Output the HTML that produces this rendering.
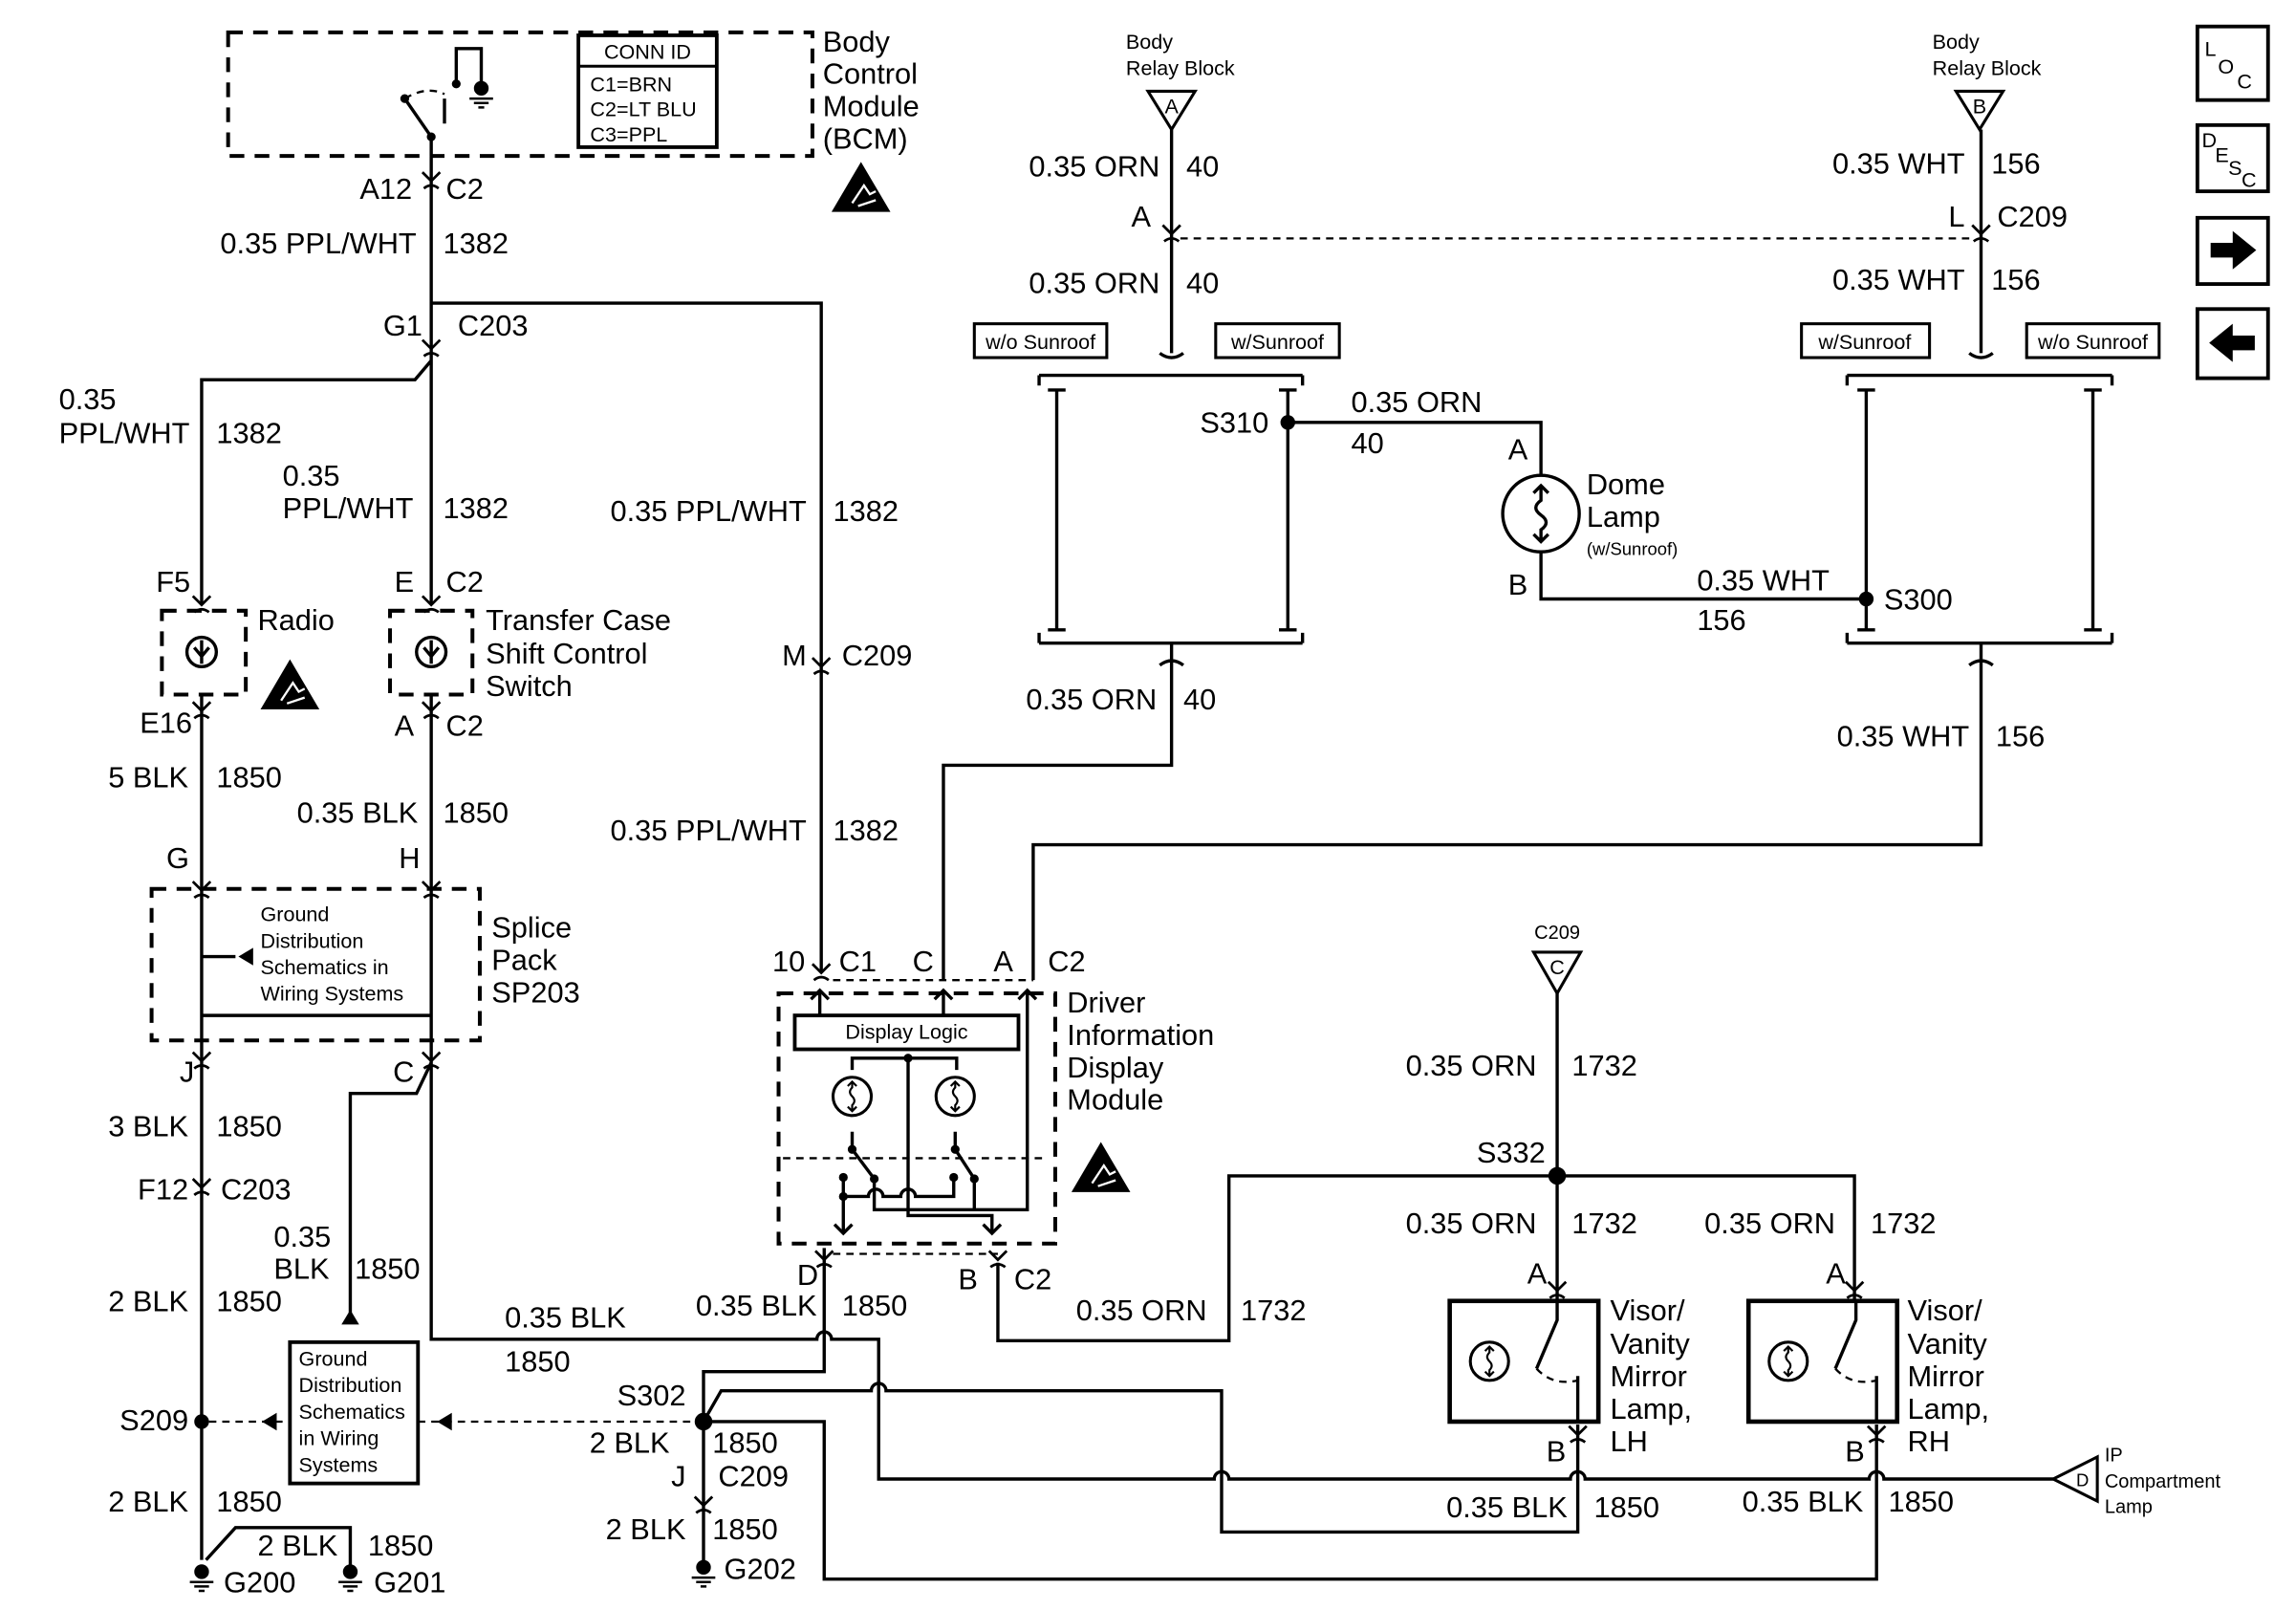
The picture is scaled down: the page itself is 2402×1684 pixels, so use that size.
<!DOCTYPE html>
<html><head><meta charset="utf-8"><style>
html,body{margin:0;padding:0;background:#fff}
svg{display:block}
text{font-family:"Liberation Sans",Arial,sans-serif;fill:#000}
.w{fill:none;stroke:#000;stroke-width:2.2}
.d{fill:none;stroke:#000;stroke-width:2.6;stroke-dasharray:10 7}
.dt{fill:none;stroke:#000;stroke-width:1.5;stroke-dasharray:5 4}
.t{font-size:20px}
.s{font-size:14px}
.e{text-anchor:end}
.m{text-anchor:middle}
</style></head><body>
<svg width="2402" height="1684" viewBox="0 0 1560 1094" preserveAspectRatio="none" xmlns="http://www.w3.org/2000/svg">
<rect width="1560" height="1094" fill="#fff"/>
<defs>
<g id="esd"><path d="M0,22 L20,-12 L40,22 Z" fill="#000"/><path d="M14,16 L22,4 L26,10 L30,8 M18,18 L30,14" stroke="#fff" stroke-width="1.5" fill="none"/></g>
<g id="gnd"><circle cx="0" cy="0" r="5" fill="#000"/><path d="M-8,7 H8 M-5,10 H5 M-2,13 H2" stroke="#000" stroke-width="1.6"/></g>
<g id="cv"><path d="M-6,-5 L0,1 L6,-5 M-5,6 Q0,2 5,6" fill="none" stroke="#000" stroke-width="1.8"/></g>
<g id="lamp"><circle cx="0" cy="0" r="13" fill="none" stroke="#000" stroke-width="2"/><path d="M0,-10 V-6 Q-3,-3 0,0 Q3,3 0,6 V10 M-3,-7 L0,-10 L3,-7 M-3,7 L0,10 L3,7" fill="none" stroke="#000" stroke-width="1.4"/></g>
</defs>

<!-- BCM -->
<rect x="155" y="22" width="397" height="84" class="d"/>
<rect x="393" y="24" width="94" height="76" fill="none" stroke="#000" stroke-width="2.5"/>
<line x1="393" y1="45" x2="487" y2="45" stroke="#000" stroke-width="2"/>
<text x="440" y="40" class="s m">CONN ID</text>
<text x="401" y="62" class="s">C1=BRN</text>
<text x="401" y="79" class="s">C2=LT BLU</text>
<text x="401" y="96" class="s">C3=PPL</text>
<path d="M293,106 V93 L275,67 M302,84 V67 M310,57 V33 H327 V60" class="w"/>
<path d="M275,67 Q290,58 302,64" class="dt"/>
<circle cx="275" cy="67" r="3" fill="#000"/><circle cx="293" cy="93" r="3" fill="#000"/><circle cx="310" cy="57" r="3" fill="#000"/>
<use href="#gnd" x="327" y="60"/>
<text x="559" y="35" class="t">Body</text>
<text x="559" y="57" class="t">Control</text>
<text x="559" y="79" class="t">Module</text>
<text x="559" y="101" class="t">(BCM)</text>
<use href="#esd" x="565" y="122"/>

<!-- left wires -->
<path d="M293,106 V410 M293,206 H558 V660 M293,245 L282,258 H137 V410" class="w"/>
<use href="#cv" x="293" y="122"/><use href="#cv" x="293" y="236"/>
<use href="#cv" x="558" y="452"/><use href="#cv" x="558" y="660"/>
<text x="280" y="135" class="t e">A12</text><text x="303" y="135" class="t">C2</text>
<text x="283" y="172" class="t e">0.35 PPL/WHT</text><text x="301" y="172" class="t">1382</text>
<text x="287" y="228" class="t e">G1</text><text x="311" y="228" class="t">C203</text>
<text x="40" y="278" class="t">0.35</text><text x="40" y="301" class="t">PPL/WHT</text><text x="147" y="301" class="t">1382</text>
<text x="192" y="330" class="t">0.35</text><text x="192" y="352" class="t">PPL/WHT</text><text x="301" y="352" class="t">1382</text>
<text x="548" y="354" class="t e">0.35 PPL/WHT</text><text x="566" y="354" class="t">1382</text>
<text x="548" y="452" class="t e">M</text><text x="572" y="452" class="t">C209</text>
<text x="548" y="571" class="t e">0.35 PPL/WHT</text><text x="566" y="571" class="t">1382</text>

<text x="106" y="402" class="t">F5</text><text x="268" y="402" class="t">E</text><text x="303" y="402" class="t">C2</text>
<use href="#cv" x="137" y="410"/><use href="#cv" x="293" y="410"/>
<rect x="110" y="415" width="57" height="57" class="d" stroke-width="2"/>
<rect x="265" y="415" width="56" height="57" class="d" stroke-width="2"/>
<circle cx="137" cy="443" r="10" class="w"/><circle cx="293" cy="443" r="10" class="w"/>
<path d="M137,435 V451 M132,440 L137,446 L142,440 M293,435 V451 M288,440 L293,446 L298,440" class="w" stroke-width="1.5"/>
<text x="175" y="428" class="t">Radio</text>
<use href="#esd" x="177" y="460"/>
<text x="330" y="428" class="t">Transfer Case</text>
<text x="330" y="451" class="t">Shift Control</text>
<text x="330" y="473" class="t">Switch</text>
<path d="M137,472 V604 M293,472 V604" class="w"/>
<use href="#cv" x="137" y="482"/><use href="#cv" x="293" y="482"/>
<text x="95" y="498" class="t">E16</text><text x="268" y="500" class="t">A</text><text x="303" y="500" class="t">C2</text>
<text x="128" y="535" class="t e">5 BLK</text><text x="147" y="535" class="t">1850</text>
<text x="284" y="559" class="t e">0.35 BLK</text><text x="301" y="559" class="t">1850</text>
<text x="113" y="590" class="t">G</text><text x="271" y="590" class="t">H</text>
<use href="#cv" x="137" y="604"/><use href="#cv" x="293" y="604"/>
<rect x="103" y="604" width="223" height="103" class="d"/>
<path d="M137,604 V707 M293,604 V707 M137,690 H293 M137,650 H160" class="w"/>
<path d="M172,644 L162,650 L172,656 Z" fill="#000"/>
<text x="177" y="626" class="s">Ground</text>
<text x="177" y="644" class="s">Distribution</text>
<text x="177" y="662" class="s">Schematics in</text>
<text x="177" y="680" class="s">Wiring Systems</text>
<text x="334" y="637" class="t">Splice</text><text x="334" y="659" class="t">Pack</text><text x="334" y="681" class="t">SP203</text>
<use href="#cv" x="137" y="720"/><use href="#cv" x="293" y="720"/>
<text x="122" y="735" class="t">J</text><text x="267" y="735" class="t">C</text>
<path d="M137,707 V1060 M140,1060 L160,1038 H238 V1066 M293,707 V910 H555 A5,5 0 0 1 565,910 H597 V1005 H825 A5,5 0 0 1 835,1005 H1067 A5,5 0 0 1 1077,1005 H1270 A5,5 0 0 1 1280,1005 H1395 M293,722 L283,743 H238 V895" class="w"/>
<path d="M232,900 L238,890 L244,900 Z" fill="#000"/>
<text x="128" y="772" class="t e">3 BLK</text><text x="147" y="772" class="t">1850</text>
<text x="128" y="815" class="t e">F12</text><text x="150" y="815" class="t">C203</text>
<use href="#cv" x="137" y="806"/>
<text x="186" y="847" class="t">0.35</text><text x="186" y="869" class="t">BLK</text><text x="241" y="869" class="t">1850</text>
<text x="128" y="891" class="t e">2 BLK</text><text x="147" y="891" class="t">1850</text>
<circle cx="137" cy="966" r="5" fill="#000"/>
<text x="128" y="972" class="t e">S209</text>
<path d="M142,966 H197 M284,966 H473" class="dt" stroke-width="2.2" stroke-dasharray="8 7"/>
<path d="M188,960 L178,966 L188,972 Z M307,960 L297,966 L307,972 Z" fill="#000"/>
<rect x="197" y="912" width="87" height="96" fill="#fff" stroke="#000" stroke-width="2.5"/>
<text x="203" y="928" class="s">Ground</text><text x="203" y="946" class="s">Distribution</text><text x="203" y="964" class="s">Schematics</text><text x="203" y="982" class="s">in Wiring</text><text x="203" y="1000" class="s">Systems</text>
<text x="128" y="1027" class="t e">2 BLK</text><text x="147" y="1027" class="t">1850</text>
<text x="175" y="1057" class="t">2 BLK</text><text x="250" y="1057" class="t">1850</text>
<use href="#gnd" x="137" y="1068"/><use href="#gnd" x="238" y="1068"/>
<text x="152" y="1082" class="t">G200</text><text x="254" y="1082" class="t">G201</text>
<text x="343" y="902" class="t">0.35 BLK</text><text x="343" y="932" class="t">1850</text>

<!-- S302 -->
<path d="M560,848 V932 H478 V1062 M478,966 H560 V1073 H1275 V968 M478,966 L490,945 H592 A5,5 0 0 1 602,945 H830 V1041 H1072 V968" class="w"/>
<circle cx="478" cy="966" r="6" fill="#000"/>
<text x="466" y="955" class="t e">S302</text>
<text x="455" y="987" class="t e">2 BLK</text><text x="484" y="987" class="t">1850</text>
<text x="466" y="1010" class="t e">J</text><text x="488" y="1010" class="t">C209</text>
<use href="#cv" x="478" y="1022"/>
<text x="466" y="1046" class="t e">2 BLK</text><text x="484" y="1046" class="t">1850</text>
<use href="#gnd" x="478" y="1065"/>
<text x="492" y="1073" class="t">G202</text>
<text x="556" y="873" class="t e">D</text>
<text x="555" y="894" class="t e">0.35 BLK</text><text x="572" y="894" class="t">1850</text>
<text x="651" y="876" class="t">B</text><text x="689" y="876" class="t">C2</text>
<use href="#cv" x="560" y="855"/><use href="#cv" x="678" y="855"/>

<!-- DID -->
<text x="547" y="660" class="t e">10</text><text x="570" y="660" class="t">C1</text>
<text x="620" y="660" class="t">C</text><text x="675" y="660" class="t">A</text><text x="712" y="660" class="t">C2</text>
<path d="M566,666 H702 M566,852 H678" class="dt"/>
<rect x="529" y="675" width="188" height="170" class="d"/>
<rect x="540" y="690" width="152" height="23" fill="#fff" stroke="#000" stroke-width="2.5"/>
<text x="616" y="706" class="s m">Display Logic</text>
<path d="M557,690 V673 M641,690 V673 M698,673 V822 H594 V801 M617,719 V826 H674 V838 M579,727 V719 H650 V727 M579,769 V781 L594,801 M649,769 V781 L662,801 V822 M573,800 V838 M573,813 H590 A5,5 0 0 1 600,813 H612 A5,5 0 0 1 622,813 H648 V800" class="w" stroke-width="1.8"/>
<path d="M551,679 L557,673 L563,679 M635,679 L641,673 L647,679 M692,679 L698,673 L704,679 M567,832 L573,838 L579,832 M668,832 L674,838 L680,832" class="w" stroke-width="1.8"/>
<circle cx="617" cy="719" r="3" fill="#000"/>
<use href="#lamp" x="579" y="745"/><use href="#lamp" x="649" y="745"/>
<path d="M532,787 H712" class="dt" stroke-width="1"/>
<circle cx="579" cy="781" r="3" fill="#000"/><circle cx="649" cy="781" r="3" fill="#000"/>
<circle cx="594" cy="801" r="3" fill="#000"/><circle cx="662" cy="801" r="3" fill="#000"/>
<circle cx="573" cy="800" r="3" fill="#000"/><circle cx="648" cy="800" r="3" fill="#000"/><circle cx="573" cy="813" r="3" fill="#000"/>
<text x="725" y="688" class="t">Driver</text><text x="725" y="710" class="t">Information</text><text x="725" y="732" class="t">Display</text><text x="725" y="754" class="t">Module</text>
<use href="#esd" x="728" y="788"/>

<!-- C, A wires -->
<path d="M641,666 V520 H796 V445 M702,666 V574 H1346 V445" class="w"/>
<path d="M678,858 V911 H835 V799 H1260 V884 M1058,675 V884" class="w"/>
<text x="786" y="482" class="t e">0.35 ORN</text><text x="804" y="482" class="t">40</text>
<text x="1338" y="507" class="t e">0.35 WHT</text><text x="1356" y="507" class="t">156</text>
<text x="820" y="897" class="t e">0.35 ORN</text><text x="843" y="897" class="t">1732</text>

<!-- top relay A -->
<text x="765" y="33" class="s">Body</text><text x="765" y="51" class="s">Relay Block</text>
<path d="M780,62 H812 L796,88 Z" fill="#fff" stroke="#000" stroke-width="2"/>
<text x="796" y="77" class="s m">A</text>
<path d="M796,88 V240" class="w"/>
<path d="M802,162 H1340" class="dt" stroke-width="2"/>
<text x="788" y="120" class="t e">0.35 ORN</text><text x="806" y="120" class="t">40</text>
<text x="782" y="154" class="t e">A</text><use href="#cv" x="796" y="158"/>
<text x="788" y="199" class="t e">0.35 ORN</text><text x="806" y="199" class="t">40</text>
<rect x="662" y="220" width="90" height="23" fill="#fff" stroke="#000" stroke-width="2"/>
<text x="707" y="237" class="s m">w/o Sunroof</text>
<rect x="826" y="220" width="84" height="23" fill="#fff" stroke="#000" stroke-width="2"/>
<text x="868" y="237" class="s m">w/Sunroof</text>
<path d="M788,240 Q796,246 804,240 M706,255 H885 M706,437 H885 M706,255 V262 M885,255 V262 M706,437 V430 M885,437 V430 M718,265 V428 M875,265 V428 M712,265 H724 M712,428 H724 M869,265 H881 M869,428 H881 M788,452 Q796,446 804,452 M796,437 V445" class="w" stroke-width="1.8"/>
<circle cx="875" cy="287" r="5" fill="#000"/>
<text x="862" y="294" class="t e">S310</text>
<path d="M875,287 H1047 V323 M1047,375 V407 H1268" class="w"/>
<text x="918" y="280" class="t">0.35 ORN</text><text x="918" y="308" class="t">40</text>
<text x="1038" y="312" class="t e">A</text>
<circle cx="1047" cy="349" r="26" class="w"/>
<path d="M1047,330 V340 Q1040,345 1047,350 Q1054,355 1047,360 V368 M1042,335 L1047,330 L1052,335 M1042,363 L1047,368 L1052,363" class="w" stroke-width="1.6"/>
<text x="1078" y="336" class="t">Dome</text><text x="1078" y="358" class="t">Lamp</text><text x="1078" y="377" class="s" style="font-size:12px">(w/Sunroof)</text>
<text x="1038" y="404" class="t e">B</text>
<text x="1153" y="401" class="t">0.35 WHT</text><text x="1153" y="428" class="t">156</text>
<circle cx="1268" cy="407" r="5" fill="#000"/>
<text x="1280" y="414" class="t">S300</text>

<!-- relay B -->
<text x="1313" y="33" class="s">Body</text><text x="1313" y="51" class="s">Relay Block</text>
<path d="M1329,62 H1361 L1345,88 Z" fill="#fff" stroke="#000" stroke-width="2"/>
<text x="1345" y="77" class="s m">B</text>
<path d="M1346,88 V240" class="w"/>
<text x="1335" y="118" class="t e">0.35 WHT</text><text x="1353" y="118" class="t">156</text>
<text x="1335" y="154" class="t e">L</text><text x="1357" y="154" class="t">C209</text>
<use href="#cv" x="1346" y="158"/>
<text x="1335" y="197" class="t e">0.35 WHT</text><text x="1353" y="197" class="t">156</text>
<rect x="1224" y="220" width="87" height="23" fill="#fff" stroke="#000" stroke-width="2"/>
<text x="1267" y="237" class="s m">w/Sunroof</text>
<rect x="1377" y="220" width="90" height="23" fill="#fff" stroke="#000" stroke-width="2"/>
<text x="1422" y="237" class="s m">w/o Sunroof</text>
<path d="M1338,240 Q1346,246 1354,240 M1255,255 H1435 M1255,437 H1435 M1255,255 V262 M1435,255 V262 M1255,437 V430 M1435,437 V430 M1268,265 V428 M1422,265 V428 M1262,265 H1274 M1262,428 H1274 M1416,265 H1428 M1416,428 H1428 M1338,452 Q1346,446 1354,452 M1346,437 V445" class="w" stroke-width="1.8"/>

<!-- C209 C / visors -->
<text x="1058" y="638" class="s m" style="font-size:13px">C209</text>
<path d="M1042,647 H1074 L1058,675 Z" fill="#fff" stroke="#000" stroke-width="2"/>
<text x="1058" y="662" class="s m">C</text>
<text x="1044" y="731" class="t e">0.35 ORN</text><text x="1068" y="731" class="t">1732</text>
<circle cx="1058" cy="799" r="6" fill="#000"/>
<text x="1050" y="790" class="t e">S332</text>
<text x="1044" y="838" class="t e">0.35 ORN</text><text x="1068" y="838" class="t">1732</text>
<text x="1247" y="838" class="t e">0.35 ORN</text><text x="1271" y="838" class="t">1732</text>
<text x="1051" y="872" class="t e">A</text><text x="1254" y="872" class="t e">A</text>
<use href="#cv" x="1058" y="876"/><use href="#cv" x="1260" y="876"/>
<rect x="985" y="884" width="101" height="82" fill="#fff" stroke="#000" stroke-width="3"/>
<rect x="1188" y="884" width="101" height="82" fill="#fff" stroke="#000" stroke-width="3"/>
<use href="#lamp" x="1012" y="925"/><use href="#lamp" x="1215" y="925"/>
<path d="M1058,884 V897 L1044,930 M1072,935 V966 M1261,884 V897 L1247,930 M1275,935 V966" class="w" stroke-width="1.8"/>
<path d="M1044,930 Q1055,942 1072,938 M1247,930 Q1258,942 1275,938" class="dt"/>
<text x="1094" y="897" class="t">Visor/</text><text x="1094" y="920" class="t">Vanity</text><text x="1094" y="942" class="t">Mirror</text><text x="1094" y="964" class="t">Lamp,</text><text x="1094" y="986" class="t">LH</text>
<text x="1296" y="897" class="t">Visor/</text><text x="1296" y="920" class="t">Vanity</text><text x="1296" y="942" class="t">Mirror</text><text x="1296" y="964" class="t">Lamp,</text><text x="1296" y="986" class="t">RH</text>
<text x="1064" y="993" class="t e">B</text><text x="1267" y="993" class="t e">B</text>
<use href="#cv" x="1072" y="974"/><use href="#cv" x="1275" y="974"/>
<text x="1065" y="1031" class="t e">0.35 BLK</text><text x="1083" y="1031" class="t">1850</text>
<text x="1266" y="1027" class="t e">0.35 BLK</text><text x="1283" y="1027" class="t">1850</text>
<path d="M1395,1005 L1425,990 V1020 Z" fill="#fff" stroke="#000" stroke-width="2"/>
<text x="1415" y="1010" class="s m" style="font-size:12px">D</text>
<text x="1430" y="993" class="s" style="font-size:13px">IP</text><text x="1430" y="1011" class="s" style="font-size:13px">Compartment</text><text x="1430" y="1028" class="s" style="font-size:13px">Lamp</text>

<!-- nav icons -->
<rect x="1493" y="18" width="48" height="50" fill="#fff" stroke="#000" stroke-width="2.5"/>
<text x="1498" y="38" class="s">L</text><text x="1507" y="50" class="s">O</text><text x="1520" y="60" class="s">C</text>
<rect x="1493" y="85" width="48" height="45" fill="#fff" stroke="#000" stroke-width="2.5"/>
<text x="1496" y="100" class="s">D</text><text x="1505" y="110" class="s">E</text><text x="1514" y="119" class="s">S</text><text x="1523" y="127" class="s">C</text>
<rect x="1493" y="148" width="48" height="45" fill="#fff" stroke="#000" stroke-width="2.5"/>
<path d="M1502,165 H1517 V157 L1533,170 L1517,183 V175 H1502 Z" fill="#000"/>
<rect x="1493" y="210" width="48" height="47" fill="#fff" stroke="#000" stroke-width="2.5"/>
<path d="M1532,228 H1517 V220 L1501,233 L1517,246 V238 H1532 Z" fill="#000"/>
</svg>
</body></html>
